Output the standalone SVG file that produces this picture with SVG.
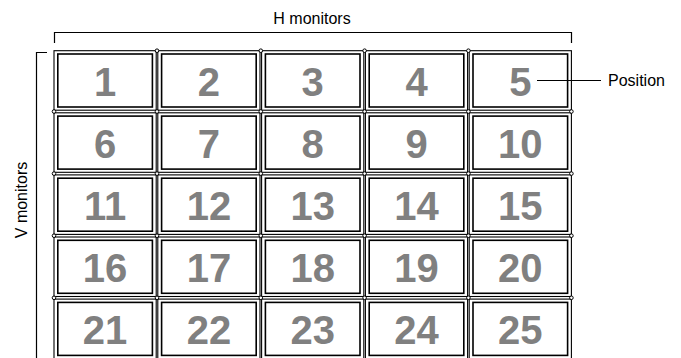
<svg xmlns="http://www.w3.org/2000/svg" width="681" height="358" viewBox="0 0 681 358">
<style>
.bg{fill:#fff}
.outer{fill:none;stroke:#000;stroke-width:1.1}
.inner{fill:#fff;stroke:#000;stroke-width:1.6}
.num{font-family:"Liberation Sans",Arial,sans-serif;font-weight:bold;font-size:40px;fill:#808080;text-anchor:middle}
.lbl{font-family:"Liberation Sans",Arial,sans-serif;font-size:16px;fill:#000}
.ln{fill:none;stroke:#000;stroke-width:1.2}
.joint{fill:#fff;stroke:#000;stroke-width:1}
</style>
<rect class="bg" x="0" y="0" width="681" height="358"/>
<g id="monitors">
<g id="m1"><rect class="outer" x="54" y="50.7" width="102.2" height="59.5"/><rect class="inner" x="57.8" y="54" width="94.6" height="53"/><text class="num" x="105.1" y="95.5">1</text></g>
<g id="m2"><rect class="outer" x="157.8" y="50.7" width="102.2" height="59.5"/><rect class="inner" x="161.6" y="54" width="94.6" height="53"/><text class="num" x="208.9" y="95.5">2</text></g>
<g id="m3"><rect class="outer" x="261.6" y="50.7" width="102.2" height="59.5"/><rect class="inner" x="265.4" y="54" width="94.6" height="53"/><text class="num" x="312.7" y="95.5">3</text></g>
<g id="m4"><rect class="outer" x="365.4" y="50.7" width="102.2" height="59.5"/><rect class="inner" x="369.2" y="54" width="94.6" height="53"/><text class="num" x="416.5" y="95.5">4</text></g>
<g id="m5"><rect class="outer" x="469.2" y="50.7" width="102.2" height="59.5"/><rect class="inner" x="473" y="54" width="94.6" height="53"/><text class="num" x="520.3" y="95.5">5</text></g>

<g id="m6"><rect class="outer" x="54" y="112.8" width="102.2" height="59.5"/><rect class="inner" x="57.8" y="116.1" width="94.6" height="53"/><text class="num" x="105.1" y="157.6">6</text></g>
<g id="m7"><rect class="outer" x="157.8" y="112.8" width="102.2" height="59.5"/><rect class="inner" x="161.6" y="116.1" width="94.6" height="53"/><text class="num" x="208.9" y="157.6">7</text></g>
<g id="m8"><rect class="outer" x="261.6" y="112.8" width="102.2" height="59.5"/><rect class="inner" x="265.4" y="116.1" width="94.6" height="53"/><text class="num" x="312.7" y="157.6">8</text></g>
<g id="m9"><rect class="outer" x="365.4" y="112.8" width="102.2" height="59.5"/><rect class="inner" x="369.2" y="116.1" width="94.6" height="53"/><text class="num" x="416.5" y="157.6">9</text></g>
<g id="m10"><rect class="outer" x="469.2" y="112.8" width="102.2" height="59.5"/><rect class="inner" x="473" y="116.1" width="94.6" height="53"/><text class="num" x="520.3" y="157.6">10</text></g>

<g id="m11"><rect class="outer" x="54" y="174.9" width="102.2" height="59.5"/><rect class="inner" x="57.8" y="178.2" width="94.6" height="53"/><text class="num" x="105.1" y="219.7">11</text></g>
<g id="m12"><rect class="outer" x="157.8" y="174.9" width="102.2" height="59.5"/><rect class="inner" x="161.6" y="178.2" width="94.6" height="53"/><text class="num" x="208.9" y="219.7">12</text></g>
<g id="m13"><rect class="outer" x="261.6" y="174.9" width="102.2" height="59.5"/><rect class="inner" x="265.4" y="178.2" width="94.6" height="53"/><text class="num" x="312.7" y="219.7">13</text></g>
<g id="m14"><rect class="outer" x="365.4" y="174.9" width="102.2" height="59.5"/><rect class="inner" x="369.2" y="178.2" width="94.6" height="53"/><text class="num" x="416.5" y="219.7">14</text></g>
<g id="m15"><rect class="outer" x="469.2" y="174.9" width="102.2" height="59.5"/><rect class="inner" x="473" y="178.2" width="94.6" height="53"/><text class="num" x="520.3" y="219.7">15</text></g>

<g id="m16"><rect class="outer" x="54" y="237" width="102.2" height="59.5"/><rect class="inner" x="57.8" y="240.3" width="94.6" height="53"/><text class="num" x="105.1" y="281.8">16</text></g>
<g id="m17"><rect class="outer" x="157.8" y="237" width="102.2" height="59.5"/><rect class="inner" x="161.6" y="240.3" width="94.6" height="53"/><text class="num" x="208.9" y="281.8">17</text></g>
<g id="m18"><rect class="outer" x="261.6" y="237" width="102.2" height="59.5"/><rect class="inner" x="265.4" y="240.3" width="94.6" height="53"/><text class="num" x="312.7" y="281.8">18</text></g>
<g id="m19"><rect class="outer" x="365.4" y="237" width="102.2" height="59.5"/><rect class="inner" x="369.2" y="240.3" width="94.6" height="53"/><text class="num" x="416.5" y="281.8">19</text></g>
<g id="m20"><rect class="outer" x="469.2" y="237" width="102.2" height="59.5"/><rect class="inner" x="473" y="240.3" width="94.6" height="53"/><text class="num" x="520.3" y="281.8">20</text></g>

<g id="m21"><rect class="outer" x="54" y="299.1" width="102.2" height="59.5"/><rect class="inner" x="57.8" y="302.4" width="94.6" height="53"/><text class="num" x="105.1" y="343.9">21</text></g>
<g id="m22"><rect class="outer" x="157.8" y="299.1" width="102.2" height="59.5"/><rect class="inner" x="161.6" y="302.4" width="94.6" height="53"/><text class="num" x="208.9" y="343.9">22</text></g>
<g id="m23"><rect class="outer" x="261.6" y="299.1" width="102.2" height="59.5"/><rect class="inner" x="265.4" y="302.4" width="94.6" height="53"/><text class="num" x="312.7" y="343.9">23</text></g>
<g id="m24"><rect class="outer" x="365.4" y="299.1" width="102.2" height="59.5"/><rect class="inner" x="369.2" y="302.4" width="94.6" height="53"/><text class="num" x="416.5" y="343.9">24</text></g>
<g id="m25"><rect class="outer" x="469.2" y="299.1" width="102.2" height="59.5"/><rect class="inner" x="473" y="302.4" width="94.6" height="53"/><text class="num" x="520.3" y="343.9">25</text></g>
</g>
<g id="joints">
<circle class="joint" cx="157" cy="111.5" r="1.8"/><circle class="joint" cx="260.8" cy="111.5" r="1.8"/><circle class="joint" cx="364.6" cy="111.5" r="1.8"/><circle class="joint" cx="468.4" cy="111.5" r="1.8"/>
<circle class="joint" cx="157" cy="173.6" r="1.8"/><circle class="joint" cx="260.8" cy="173.6" r="1.8"/><circle class="joint" cx="364.6" cy="173.6" r="1.8"/><circle class="joint" cx="468.4" cy="173.6" r="1.8"/>
<circle class="joint" cx="157" cy="235.7" r="1.8"/><circle class="joint" cx="260.8" cy="235.7" r="1.8"/><circle class="joint" cx="364.6" cy="235.7" r="1.8"/><circle class="joint" cx="468.4" cy="235.7" r="1.8"/>
<circle class="joint" cx="157" cy="297.8" r="1.8"/><circle class="joint" cx="260.8" cy="297.8" r="1.8"/><circle class="joint" cx="364.6" cy="297.8" r="1.8"/><circle class="joint" cx="468.4" cy="297.8" r="1.8"/>
<circle class="joint" cx="157" cy="50.7" r="1.8"/><circle class="joint" cx="260.8" cy="50.7" r="1.8"/><circle class="joint" cx="364.6" cy="50.7" r="1.8"/><circle class="joint" cx="468.4" cy="50.7" r="1.8"/>
<circle class="joint" cx="54" cy="111.5" r="1.8"/><circle class="joint" cx="54" cy="173.6" r="1.8"/><circle class="joint" cx="54" cy="235.7" r="1.8"/><circle class="joint" cx="54" cy="297.8" r="1.8"/>
<circle class="joint" cx="571.4" cy="111.5" r="1.8"/><circle class="joint" cx="571.4" cy="173.6" r="1.8"/><circle class="joint" cx="571.4" cy="235.7" r="1.8"/><circle class="joint" cx="571.4" cy="297.8" r="1.8"/>
</g>
<g id="connectors">
<path class="ln" d="M54.5,43 V32.5 H571.5 V43"/>
<path class="ln" d="M47,52.5 H36.5 V360"/>
<line class="ln" x1="537" y1="80.5" x2="601" y2="80.5"/>
</g>
<g id="labels">
<text class="lbl" x="312" y="24" text-anchor="middle">H monitors</text>
<text class="lbl" transform="translate(27,200) rotate(-90)" text-anchor="middle">V monitors</text>
<text class="lbl" x="608" y="86">Position</text>
</g>
</svg>
